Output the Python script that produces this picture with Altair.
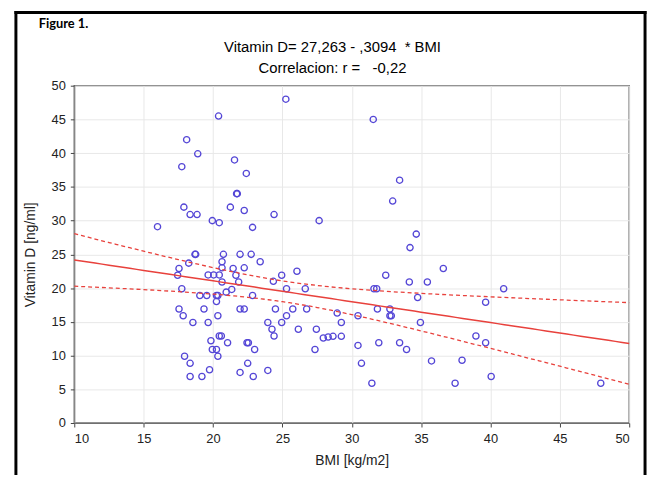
import altair as alt
import numpy as np
import pandas as pd

# ---- data ----
bmi = [20.4, 18.1, 18.9, 17.75, 21.55, 22.4, 21.7, 21.75, 17.9, 21.25,
       18.35, 18.85, 22.25, 19.95, 20.45, 22.85, 16.0, 18.7, 18.75, 20.75,
       21.95, 22.75, 18.25, 17.55, 17.45, 20.65, 20.65, 21.45, 22.25, 19.65,
       20.05, 20.45, 21.65, 20.65, 21.85, 17.75, 21.35, 20.95, 19.05, 19.55,
       20.25, 20.35, 22.85, 20.25, 17.55, 19.35, 21.95, 22.25, 17.85, 20.35,
       18.55, 19.65, 20.45, 20.6, 19.85, 21.05, 22.45, 22.55, 19.95, 20.25,
       20.35, 17.95, 23.0, 18.35, 22.5, 19.75, 21.95, 18.35, 19.2, 22.9,
       24.4, 23.4, 24.35, 24.5, 23.95, 24.25, 24.4, 23.95, 24.95, 26.05,
       25.3, 26.65, 25.75, 26.75, 25.3, 24.95, 26.15, 27.45, 27.95, 28.3,
       28.65, 29.25, 28.95, 29.25, 27.35, 30.45, 30.45, 30.7, 31.45, 32.45,
       31.6, 31.8, 31.85, 32.75, 32.75, 32.85, 31.95, 33.45, 33.95, 34.2,
       34.15, 35.45, 34.75, 34.95, 35.75, 36.6, 27.65, 32.95, 34.65, 37.95,
       37.45, 40.95, 39.65, 38.95, 39.65, 40.05, 47.95, 25.25, 31.55, 33.45]
vitd = [45.5, 42.0, 39.9, 38.0, 39.0, 37.0, 34.0, 34.0, 32.0, 32.0,
        30.9, 30.9, 31.5, 30.0, 29.7, 29.0, 29.1, 25.0, 25.0, 25.0,
        25.0, 25.0, 23.7, 22.9, 21.9, 23.9, 23.0, 22.9, 23.0, 21.95,
        21.95, 21.95, 21.9, 20.9, 20.9, 19.9, 19.8, 19.4, 18.9, 18.9,
        18.9, 18.9, 18.9, 18.0, 16.9, 16.9, 16.9, 16.9, 15.9, 15.9,
        14.9, 14.9, 12.9, 12.9, 12.2, 11.9, 11.9, 11.9, 10.9, 10.9,
        9.9, 9.9, 10.9, 8.85, 8.85, 7.9, 7.5, 6.9, 6.9, 6.9,
        30.9, 23.9, 21.0, 16.9, 14.9, 13.9, 12.9, 7.8, 21.9, 22.5,
        19.9, 19.9, 16.9, 16.9, 15.9, 14.9, 13.9, 13.9, 12.6, 12.75,
        12.85, 12.85, 16.3, 14.9, 10.9, 15.9, 11.5, 8.85, 5.9, 21.9,
        19.9, 19.9, 16.9, 16.9, 15.9, 15.9, 11.9, 11.9, 10.9, 26.0,
        20.9, 20.9, 18.6, 14.9, 9.2, 22.9, 30.0, 32.9, 28.0, 9.3,
        5.9, 19.9, 17.9, 12.9, 11.9, 6.9, 5.9, 48.0, 45.0, 36.0]

INTERCEPT = 27.263
SLOPE = -0.3094
X_TICKS = [10, 15, 20, 25, 30, 35, 40, 45, 50]
Y_TICKS = [0, 5, 10, 15, 20, 25, 30, 35, 40, 45, 50]
TITLE_LINE1 = "Vitamin D= 27,263 - ,3094 \u00a0* BMI"
TITLE_LINE2 = "Correlacion: r = \u00a0\u00a0-0,22"
FIG_LABEL = "Figure 1."

pts = pd.DataFrame({"BMI": bmi, "VitD": vitd})

# regression line and 95% confidence band of the mean
x = np.array(bmi)
y = np.array(vitd)
n = len(x)
xbar = x.mean()
sxx = ((x - xbar) ** 2).sum()
resid = y - (INTERCEPT + SLOPE * x)
s = np.sqrt((resid ** 2).sum() / (n - 2))
t = 1.979
grid = np.linspace(10, 50, 81)
fit = INTERCEPT + SLOPE * grid
half = t * s * np.sqrt(1.0 / n + (grid - xbar) ** 2 / sxx)
band = pd.DataFrame({"BMI": grid, "fit": fit, "lo": fit - half, "hi": fit + half})

xs = alt.Scale(domain=[10, 50], nice=False, zero=False)
ys = alt.Scale(domain=[0, 50], nice=False)
XT = "BMI [kg/m2]"
YT = "Vitamin D [ng/ml]"
xax = alt.Axis(values=X_TICKS, title=XT)
yax = alt.Axis(values=Y_TICKS, title=YT)

RED = "#e8413c"

points = alt.Chart(pts).mark_point(
    shape="circle", filled=False, size=40, stroke="#5446d6", strokeWidth=1.3, opacity=1
).encode(
    x=alt.X("BMI:Q", scale=xs, axis=xax),
    y=alt.Y("VitD:Q", scale=ys, axis=yax),
)

fit_line = alt.Chart(band).mark_line(color=RED, strokeWidth=1.5).encode(
    x=alt.X("BMI:Q", scale=xs, axis=xax),
    y=alt.Y("fit:Q", scale=ys, axis=yax),
)
hi_line = alt.Chart(band).mark_line(color=RED, strokeWidth=1.3, strokeDash=[4, 3]).encode(
    x=alt.X("BMI:Q", scale=xs, axis=xax),
    y=alt.Y("hi:Q", scale=ys, axis=yax),
)
lo_line = alt.Chart(band).mark_line(color=RED, strokeWidth=1.3, strokeDash=[4, 3]).encode(
    x=alt.X("BMI:Q", scale=xs, axis=xax),
    y=alt.Y("lo:Q", scale=ys, axis=yax),
)

one = alt.Data(values=[{"k": 1}])
frame_left = alt.Chart(one).mark_rule(color="black", strokeWidth=3, clip=False).encode(
    x=alt.value(-59), y=alt.value(-75.5), y2=alt.value(420)
)
frame_right = alt.Chart(one).mark_rule(color="black", strokeWidth=3, clip=False).encode(
    x=alt.value(577), y=alt.value(-75.5), y2=alt.value(420)
)
frame_top = alt.Chart(one).mark_rule(color="black", strokeWidth=3, clip=False).encode(
    x=alt.value(-60.5), x2=alt.value(578.5), y=alt.value(-74)
)
fig_label = alt.Chart(one).mark_text(
    text=FIG_LABEL, font="Lato", fontWeight="bold", fontSize=13,
    align="left", baseline="middle", color="black"
).encode(x=alt.value(-36), y=alt.value(-62))
title1 = alt.Chart(one).mark_text(
    text=TITLE_LINE1, font="Liberation Sans", fontSize=15,
    align="center", baseline="middle", color="black"
).encode(x=alt.value(261), y=alt.value(-39))
title2 = alt.Chart(one).mark_text(
    text=TITLE_LINE2, font="Liberation Sans", fontSize=15,
    align="center", baseline="middle", color="black"
).encode(x=alt.value(261), y=alt.value(-18))

chart = alt.layer(
    points, fit_line, hi_line, lo_line,
    frame_left, frame_right, frame_top, fig_label, title1, title2
).properties(
    width=561,
    height=341,
    padding={"left": 67, "top": 76, "right": 20, "bottom": 50},
    autosize=alt.AutoSizeParams(type="none"),
    background="white",
).configure_view(
    stroke="#6e6e6e", strokeWidth=1.5
).configure_axis(
    grid=True, gridColor="#e8e8e8", domainColor="#6e6e6e", tickColor="#444",
    tickSize=4, labelFont="Liberation Sans", labelFontSize=13, labelColor="#222",
    titleFont="Liberation Sans", titleFontSize=14, titleFontWeight="normal",
    titleColor="#222"
).configure_axisX(
    labelPadding=6, titlePadding=8
).configure_axisY(
    labelPadding=5, titlePadding=14
)

chart.save("out.html", embed_options={"renderer": "svg", "actions": False})
